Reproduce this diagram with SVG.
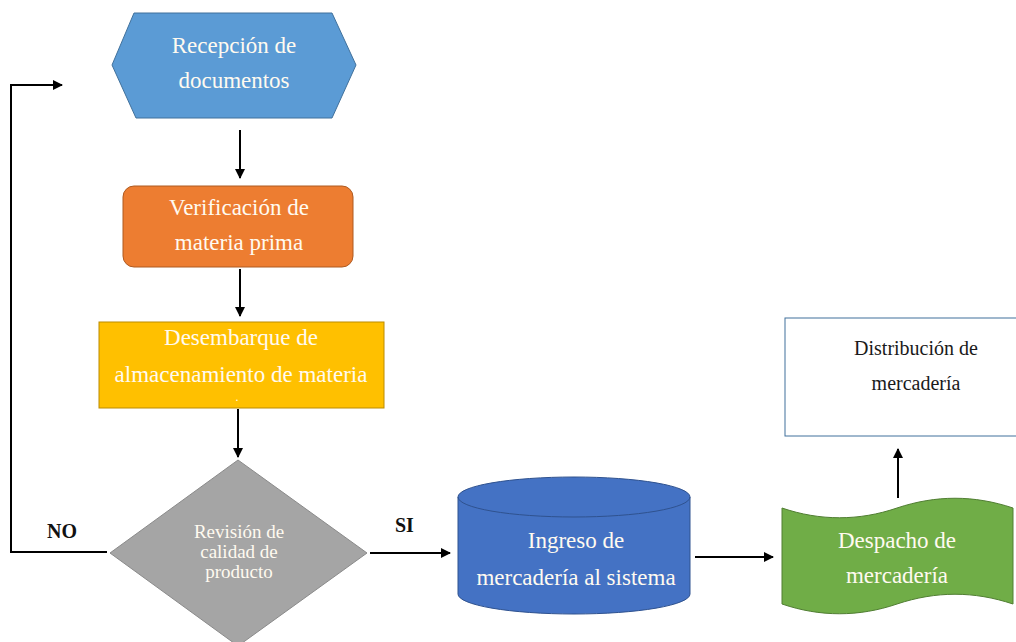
<svg xmlns="http://www.w3.org/2000/svg" width="1016" height="642" viewBox="0 0 1016 642">
  <defs>
    <marker id="arrow" viewBox="0 0 10 10" refX="9" refY="5" markerWidth="5" markerHeight="5" orient="auto" markerUnits="strokeWidth">
      <path d="M0,0 L10,5 L0,10 Z" fill="#000"/>
    </marker>
    <style>
      .lbl { font-family: "Liberation Serif", "Times New Roman", serif; font-size: 23px; fill: #fffaf0; text-anchor: middle; }
      .dark { fill: #1a1a1a; font-size: 20px; }
      .small { font-size: 19px; }
      .tag { font-family: "Liberation Serif", "Times New Roman", serif; font-size: 20px; font-weight: bold; fill: #111; }
      .conn { fill: none; stroke: #000; stroke-width: 2; }
    </style>
  </defs>
  <rect width="1016" height="642" fill="#ffffff"/>

  <!-- connectors -->
  <g id="connectors">
    <line class="conn" x1="240" y1="130" x2="240" y2="178" marker-end="url(#arrow)"/>
    <line class="conn" x1="240" y1="269" x2="240" y2="316" marker-end="url(#arrow)"/>
    <line class="conn" x1="238" y1="409" x2="238" y2="457" marker-end="url(#arrow)"/>
    <polyline class="conn" points="107,552 11,552 11,85 62,85" marker-end="url(#arrow)"/>
    <line class="conn" x1="370" y1="553" x2="450" y2="553" marker-end="url(#arrow)"/>
    <line class="conn" x1="695" y1="557" x2="773" y2="557" marker-end="url(#arrow)"/>
    <line class="conn" x1="898" y1="498" x2="898" y2="449" marker-end="url(#arrow)"/>
    <text class="tag" x="47" y="538">NO</text>
    <text class="tag" x="395" y="532">SI</text>
  </g>

  <!-- document reception (hexagon) -->
  <g id="recepcion">
    <polygon points="112,65 134,13 332,13 356,65 332,118 136,118" fill="#5B9BD5" stroke="#41719C" stroke-width="1"/>
    <text class="lbl" x="234" y="53">Recepción de</text>
    <text class="lbl" x="234" y="88">documentos</text>
  </g>

  <!-- raw material check -->
  <g id="verificacion">
    <rect x="123" y="186" width="230" height="81" rx="11" fill="#ED7D31" stroke="#AE5A21" stroke-width="1"/>
    <text class="lbl" x="239" y="215">Verificación de</text>
    <text class="lbl" x="239" y="250">materia prima</text>
  </g>

  <!-- unloading to storage -->
  <g id="desembarque">
    <rect x="99" y="322" width="285" height="86" fill="#FFC000" stroke="#BC8C00" stroke-width="1"/>
    <text class="lbl" x="241" y="345">Desembarque de</text>
    <text class="lbl" x="241" y="382">almacenamiento de materia</text>
    <text class="lbl" x="237" y="401" style="font-size:12px">.</text>
  </g>

  <!-- quality decision -->
  <g id="revision">
    <polygon points="238,460 367,553 238,646 110,553" fill="#A5A5A5" stroke="#8A8A8A" stroke-width="1"/>
    <text class="lbl small" x="239" y="538">Revisión de</text>
    <text class="lbl small" x="239" y="558">calidad de</text>
    <text class="lbl small" x="239" y="578">producto</text>
  </g>

  <!-- system entry (cylinder) -->
  <g id="ingreso">
    <path d="M458,497 A116,20 0 0 1 690,497 L690,594 A116,20 0 0 1 458,594 Z" fill="#4472C4" stroke="#2F528F" stroke-width="1"/>
    <path d="M458,497 A116,20 0 0 0 690,497" fill="none" stroke="#2F528F" stroke-width="1"/>
    <text class="lbl" x="576" y="548">Ingreso de</text>
    <text class="lbl" x="576" y="585">mercadería al sistema</text>
  </g>

  <!-- dispatch (punched tape) -->
  <g id="despacho">
    <path d="M782,508 C820,521 859,521 897,508 C936,495 974,495 1013,508 L1013,604 C974,591 936,591 897,604 C859,617 820,617 782,604 Z" fill="#70AD47" stroke="#507E32" stroke-width="1"/>
    <text class="lbl" x="897" y="548">Despacho de</text>
    <text class="lbl" x="897" y="583">mercadería</text>
  </g>

  <!-- distribution -->
  <g id="distribucion">
    <rect x="785" y="318" width="250" height="118" fill="#ffffff" stroke="#41719C" stroke-width="1"/>
    <text class="lbl dark" x="916" y="355">Distribución de</text>
    <text class="lbl dark" x="916" y="390">mercadería</text>
  </g>
</svg>
